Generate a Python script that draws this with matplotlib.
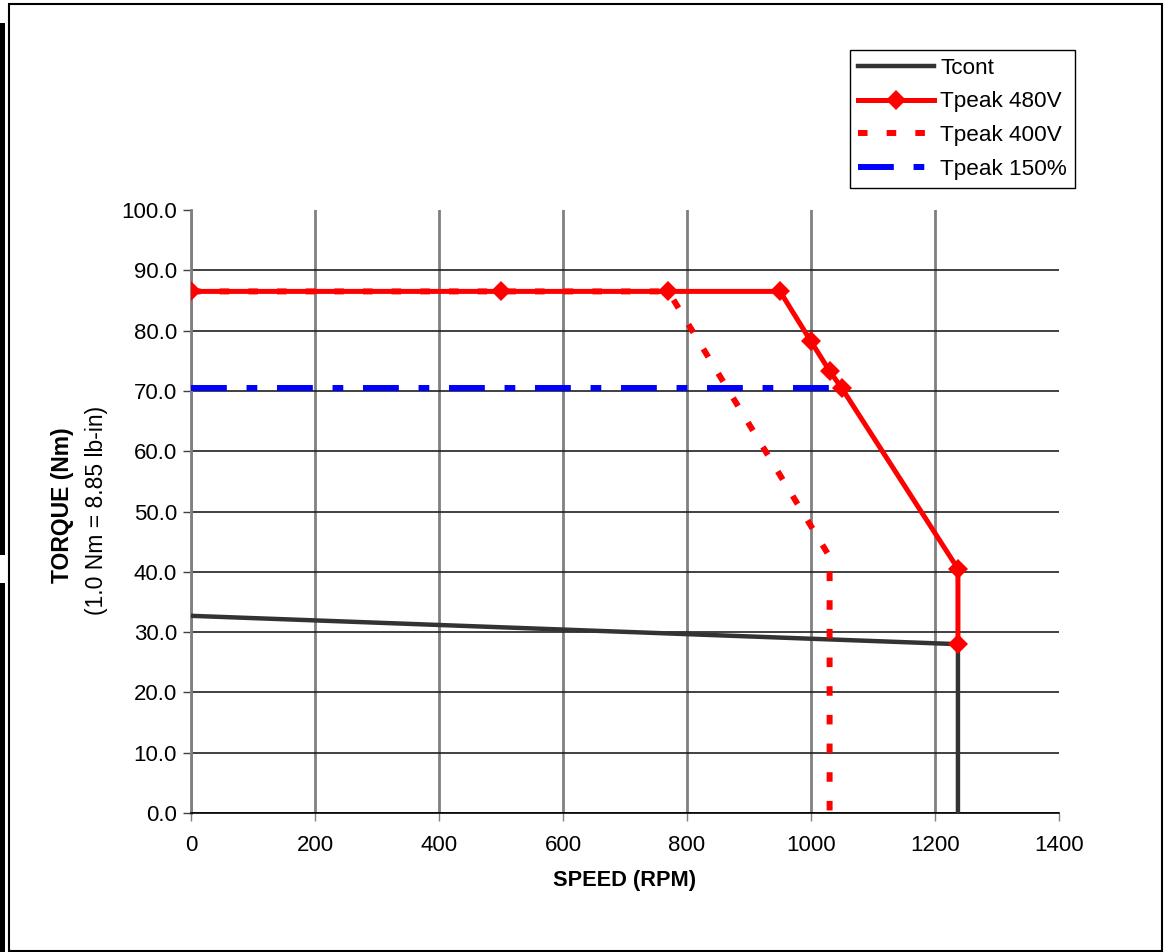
import matplotlib
matplotlib.use("Agg")
import matplotlib.pyplot as plt
from matplotlib.patches import Rectangle

plt.rcParams["font.family"] = ["Liberation Sans", "DejaVu Sans"]

# data
tcont_rpm = [0, 1237, 1237]
tcont_nm = [32.7, 28.0, 0.0]

peak480_rpm = [0, 500, 770, 950, 1000, 1030, 1050, 1237, 1237]
peak480_nm = [86.5, 86.5, 86.5, 86.5, 78.2, 73.3, 70.4, 40.5, 28.0]

peak400_rpm = [0, 770, 1030, 1030]
peak400_nm = [86.5, 86.5, 42.5, 0.0]

peak150_rpm = [0, 1035]
peak150_nm = [70.5, 70.5]

x_ticks = [0, 200, 400, 600, 800, 1000, 1200, 1400]
y_ticks = [0, 10, 20, 30, 40, 50, 60, 70, 80, 90, 100]

W, H = 1169, 952
fig = plt.figure(figsize=(W / 100, H / 100), dpi=100)
ax = fig.add_axes([191 / W, 1 - 813 / H, (1059 - 191) / W, (813 - 210) / H])

ax.plot(tcont_rpm, tcont_nm, color="#333333", lw=3.2, label="Tcont", zorder=3)
ax.plot(peak150_rpm, peak150_nm, color="#0000ff", lw=4.3,
        dashes=(6.0, 3.3, 1.8, 3.3), label="Tpeak 150%", zorder=4)
ax.plot(peak400_rpm, peak400_nm, color="#ff0000", lw=4.3,
        dashes=(1.6, 3.2), label="Tpeak 400V", zorder=5)
ax.plot(peak480_rpm, peak480_nm, color="#ff0000", lw=3.6, marker="D",
        ms=10.5, mew=0, label="Tpeak 480V", zorder=6)

ax.set_xlim(0, 1400)
ax.set_ylim(0, 100)
ax.set_xticks(x_ticks)
ax.set_yticks(y_ticks)
ax.set_yticklabels([f"{v:.1f}" for v in y_ticks])
ax.tick_params(axis="both", direction="out", length=6, width=1,
               labelsize=16, pad=4)
ax.tick_params(axis="x", color="#808080", pad=10)
ax.tick_params(axis="y", color="#404040")

ax.xaxis.grid(True, color="#808080", lw=2.0)
ax.yaxis.grid(True, color="#202020", lw=1.2)
ax.get_xgridlines()[-1].set_visible(False)
ax.get_ygridlines()[-1].set_visible(False)
ax.set_axisbelow(True)

for side in ("top", "right"):
    ax.spines[side].set_visible(False)
ax.spines["left"].set_color("#808080")
ax.spines["left"].set_linewidth(2.0)
ax.spines["bottom"].set_color("black")
ax.spines["bottom"].set_linewidth(1.2)

ax.set_xlabel("SPEED (RPM)", fontsize=15.7, fontweight="bold", labelpad=10)
fig.text(63 / W, 1 - 505 / H, "TORQUE (Nm)", rotation=90, fontsize=16.5,
         fontweight="bold", ha="center", va="center")
fig.text(97 / W, 1 - 510 / H, "(1.0 Nm = 8.85 lb-in)", rotation=90,
         fontsize=16.5, ha="center", va="center")

handles, labels = ax.get_legend_handles_labels()
order = [0, 3, 2, 1]
leg = fig.legend([handles[i] for i in order], [labels[i] for i in order],
                 loc="upper right", bbox_to_anchor=(1075 / W, 1 - 50 / H),
                 bbox_transform=fig.transFigure, borderaxespad=0,
                 fontsize=16.2, frameon=True, fancybox=False,
                 handlelength=3.35, handletextpad=0.3, labelspacing=0.56,
                 borderpad=0.35)
leg.get_frame().set_edgecolor("black")
leg.get_frame().set_linewidth(1.0)
leg.get_frame().set_alpha(None)

# page frame and scan edge marks
fig.patches.append(Rectangle((8.5 / W, 1 - 951 / H), (1162 - 8.5) / W,
                             (951 - 3.5) / H, transform=fig.transFigure,
                             fill=False, edgecolor="black", lw=1.5))
fig.patches.append(Rectangle((0, 1 - 555 / H), 4.5 / W, (555 - 23) / H,
                             transform=fig.transFigure, color="black", lw=0))
fig.patches.append(Rectangle((0, 0), 4.5 / W, (952 - 583) / H,
                             transform=fig.transFigure, color="black", lw=0))

fig.savefig("out.png", dpi=100)
